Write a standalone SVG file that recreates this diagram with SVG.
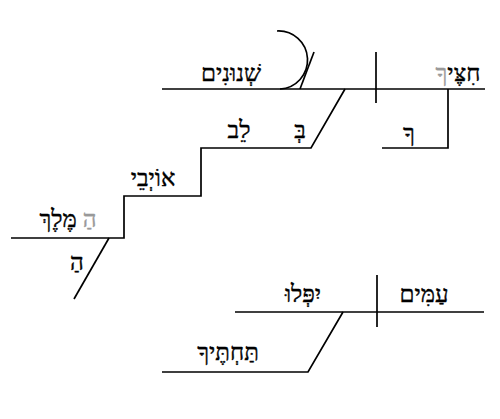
<svg xmlns="http://www.w3.org/2000/svg" width="500" height="419" viewBox="0 0 500 419">
<style>
.l{stroke:#000;stroke-width:1.7;fill:none}
text{font-family:"Liberation Serif","DejaVu Serif",serif;font-size:24px;fill:#000;stroke:#000;stroke-width:0.4;text-anchor:middle}
.g{fill:#999;stroke:#999}
</style>
<rect width="500" height="419" fill="#fff"/>
<g id="connectors">
<path class="l" d="M162,89H485"/>
<path class="l" d="M376,52V103"/>
<path class="l" d="M277,31A29,29 0 0 1 280,89"/>
<path class="l" d="M300,89L314,52"/>
<path class="l" d="M448,89V148H382"/>
<path class="l" d="M345,89L311,148H201V196H124V238H11"/>
<path class="l" d="M109,238L74,299"/>
<path class="l" d="M235,312H484"/>
<path class="l" d="M377,275V327"/>
<path class="l" d="M343,312L308,372H162"/>
</g>
<g id="n-subject"><text x="458" y="81">חִצֶּי<tspan class="g">ךָ</tspan></text></g>
<g id="n-predicate"><text x="231" y="81">שְׁנוּנִים</text></g>
<g id="n-suffix"><text x="409" y="141">ךָ</text></g>
<g id="n-prep"><text x="300" y="138">בְּ</text></g>
<g id="n-lev"><text x="239" y="138">לֵב</text></g>
<g id="n-oyvei"><text x="153" y="186">אוֹיְבֵי</text></g>
<g id="n-melekh"><text x="68" y="227"><tspan class="g">הַ</tspan> מֶּלֶךְ</text></g>
<g id="n-article"><text x="77" y="270">הַ</text></g>
<g id="n-amim"><text x="424" y="302">עַמִּים</text></g>
<g id="n-yiplu"><text x="303" y="302">יִפְּלוּ</text></g>
<g id="n-tachtekha"><text x="228" y="360">תַּחְתֶּיךָ</text></g>
</svg>
